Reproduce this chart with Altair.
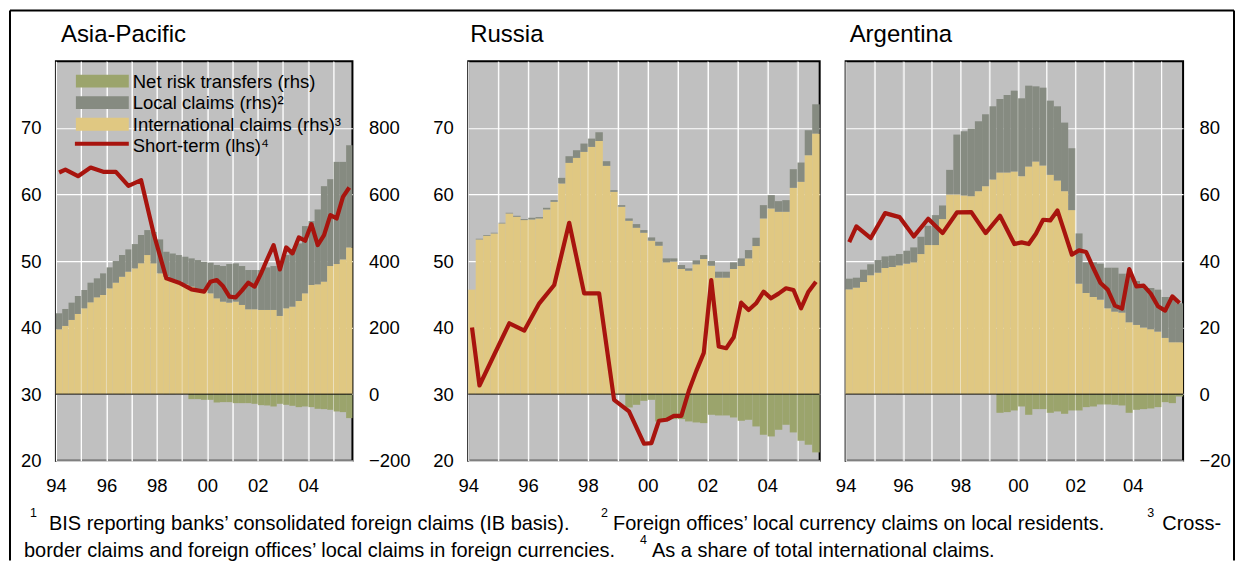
import altair as alt
import pandas as pd

FONT = "Liberation Sans"
C_BG = "#c0c0c0"
C_INTL = "#e0c882"
C_LOCAL = "#868b81"
C_NRT = "#9ba46c"
C_RED = "#a8140e"

# ---------------- data ----------------
quarter_starts = [1994 + 0.25 * i for i in range(47)]
st_dates = [1994.125, 1994.375, 1994.875, 1995.375, 1995.875, 1996.375, 1996.875,
            1997.375, 1997.875, 1998.375, 1998.875, 1999.375, 1999.875,
            2000.125, 2000.375, 2000.625, 2000.875, 2001.125, 2001.375, 2001.625, 2001.875,
            2002.125, 2002.375, 2002.625, 2002.875, 2003.125, 2003.375, 2003.625, 2003.875,
            2004.125, 2004.375, 2004.625, 2004.875, 2005.125, 2005.375, 2005.625]

series_names = ["Net risk transfers (rhs)", "Local claims (rhs)\u00b2", "International claims (rhs)\u00b3"]
series_colors = [C_NRT, C_LOCAL, C_INTL]
line_name = "Short-term (lhs)\u2074"

# Asia-Pacific (rhs: USD bn)
ap_intl = [195, 205, 223, 241, 258, 276, 291, 298, 318, 335, 353, 368, 378, 393, 418, 393,
           363, 353, 345, 338, 330, 323, 315, 311, 303, 288, 278, 275, 278, 268, 255, 255,
           253, 253, 253, 235, 258, 263, 280, 303, 328, 330, 338, 385, 391, 405, 441]
ap_local = [48, 51, 52, 54, 55, 59, 57, 65, 63, 65, 65, 67, 73, 85, 75, 94,
            102, 75, 78, 80, 83, 85, 88, 87, 92, 100, 107, 116, 115, 117, 118, 118,
            120, 128, 132, 166, 160, 172, 173, 202, 192, 225, 287, 261, 307, 293, 307]
ap_nrt = [0] * 21 + [-15, -15, -17, -17, -25, -24, -24, -27, -27, -27, -29, -33, -34, -37,
                     -29, -32, -35, -39, -37, -39, -44, -45, -47, -52, -54, -72]
ap_st = [63.3, 63.75, 62.75, 64.05, 63.4, 63.4, 61.3, 62.15, 54.1, 47.4, 46.75, 45.75, 45.4,
         46.9, 47.15, 46.2, 44.65, 44.55, 45.6, 46.75, 46.15, 48.1, 50.3, 52.4, 48.75,
         52.05, 51.15, 53.55, 53.05, 55.55, 52.4, 53.9, 56.9, 56.4, 59.65, 61.05]

# Russia (rhs scale hidden)
ru_intl = [31.4, 46.5, 47.6, 48.3, 51.3, 54.3, 53.3, 52.3, 52.5, 52.8, 55.5, 57.8, 63.3, 69.5,
           71.0, 72.8, 74.3, 76.1, 68.6, 60.8, 56.3, 52.1, 50.0, 48.5, 46.1, 44.6, 39.6, 39.8,
           37.6, 37.1, 39.0, 40.6, 38.6, 35.0, 35.0, 37.6, 38.5, 40.8, 44.5, 52.8, 55.8, 54.8,
           54.8, 62.0, 63.8, 71.8, 78.3]
ru_local = [0, 0.2, 0.2, 0.2, 0.2, 0.2, 0.3, 0.3, 0.5, 0.4, 0.5, 0.5, 1.7, 2.0, 2.3, 2.5,
            2.5, 2.6, 1.4, 0.5, 0.5, 0.7, 1.1, 0.8, 1.0, 1.2, 1.2, 1.0, 1.2, 0.7, 1.2, 1.2,
            1.4, 1.8, 1.8, 2.0, 2.3, 2.5, 2.5, 4.0, 4.0, 3.2, 3.5, 5.6, 5.8, 7.5, 8.8]
ru_nrt = [0] * 21 + [-4.0, -3.2, -2.0, -1.7, -8.2, -8.0, -7.5, -7.5, -8.2, -8.5, -8.7, -6.2,
                     -6.4, -6.4, -7.0, -8.0, -7.7, -9.7, -12.2, -12.7, -10.7, -9.2, -11.5,
                     -14.0, -15.2, -17.5]
ru_st = [40.0, 31.3, 36.0, 40.65, 39.55, 43.65, 46.4, 55.75, 45.15, 45.15, 29.15, 27.4, 22.55,
         22.65, 26.0, 26.15, 26.75, 26.75, 30.5, 33.5, 36.2, 47.15, 37.15, 36.9, 38.55,
         43.75, 42.65, 43.65, 45.4, 44.4, 45.1, 45.9, 45.65, 42.9, 45.4, 46.9]

# Argentina (rhs: USD bn)
ar_intl = [31.5, 32.0, 33.7, 35.7, 36.5, 37.9, 38.2, 38.7, 39.2, 39.6, 42.1, 44.8, 44.8, 52.6,
           60.0, 60.0, 59.7, 59.5, 61.0, 62.5, 64.5, 66.6, 66.6, 66.9, 65.5, 68.4, 69.9, 68.7,
           65.9, 64.2, 61.0, 55.3, 33.2, 30.4, 29.2, 28.4, 25.8, 24.8, 24.5, 21.6, 20.8, 20.0,
           19.5, 18.8, 16.9, 15.6, 15.6]
ar_local = [3.2, 3.0, 3.7, 3.3, 3.8, 3.5, 3.4, 3.4, 3.9, 4.5, 5.2, 5.8, 9.0, 4.1, 7.4, 18.0,
            19.3, 20.3, 21.0, 21.6, 22.0, 22.1, 23.3, 24.3, 23.4, 24.3, 22.6, 23.4, 22.3, 22.3,
            20.6, 18.6, 15.1, 9.2, 10.4, 10.8, 12.2, 13.2, 11.7, 14.6, 13.2, 12.4, 12.4, 12.6,
            12.3, 13.6, 11.7]
ar_nrt = [0] * 21 + [-5.6, -5.4, -4.9, -3.7, -6.2, -4.5, -4.5, -5.6, -5.2, -5.9, -4.9, -4.9,
                     -3.9, -3.7, -3.1, -3.1, -3.2, -3.4, -5.6, -4.7, -4.5, -4.3, -3.9, -2.4,
                     -2.7, -0.7]
ar_st = [52.85, 55.2, 53.45, 57.2, 56.6, 53.7, 56.35, 54.2, 57.3, 57.35, 54.2, 56.8, 52.55,
         52.8, 52.55, 54.1, 56.2, 56.1, 57.6, 54.3, 50.95, 51.6, 51.35, 48.95, 46.7, 45.7,
         43.3, 42.85, 48.8, 46.2, 46.3, 45.1, 43.2, 42.55, 44.7, 43.7]

grid_years = list(range(1995, 2006))
tick_years = list(range(1994, 2006))
label_years = [1994, 1996, 1998, 2000, 2002, 2004]
label_texts = ["94", "96", "98", "00", "02", "04"]
lhs_ticks = [20, 30, 40, 50, 60, 70]
ap_rhs_ticks = [-200, 0, 200, 400, 600, 800]
ar_rhs_ticks = [-20, 0, 20, 40, 60, 80]

footnote_1 = ["BIS reporting banks\u2019 consolidated foreign claims (IB basis).",
              "Foreign offices\u2019 local currency claims on local residents.",
              "Cross-"]
footnote_2 = ["border claims and foreign offices\u2019 local claims in foreign currencies.",
              "As a share of total international claims."]

one = pd.DataFrame({"k": [0]})

# ---------------- helpers ----------------
LBL = 18.5

yrs_js = "[" + ",".join(str(y) for y in label_years) + "]"
txt_js = "[" + ",".join("'" + t + "'" for t in label_texts) + "]"
x_axis = alt.Axis(values=tick_years, grid=True, gridColor="white", gridWidth=1.2,
                  ticks=False, domain=False, labelFontSize=LBL, labelPadding=16,
                  labelFlush=False, labelOverlap=False, title=None,
                  labelExpr=f"indexof({yrs_js}, datum.value) >= 0 ? {txt_js}[indexof({yrs_js}, datum.value)] : ''")


def bar_frame(intl, local, nrt):
    rows = []
    for t, a, b, c in zip(quarter_starts, intl, local, nrt):
        rows.append(dict(t0=t, t1=t + 0.25, series=series_names[2], y0=0, y1=a))
        rows.append(dict(t0=t, t1=t + 0.25, series=series_names[1], y0=a, y1=a + b))
        if c:
            rows.append(dict(t0=t, t1=t + 0.25, series=series_names[0], y0=c, y1=0))
    return pd.DataFrame(rows)


def text_layer(text, x, y, size, align="left", baseline="alphabetic"):
    return alt.Chart(one).mark_text(text=text, align=align, baseline=baseline,
                                    fontSize=size, font=FONT, color="black").encode(
        x=alt.value(x), y=alt.value(y))


def make_panel(title, title_dx, width, intl, local, nrt, st, rhs_dom, rhs_axis, lhs_axis, extras=()):
    xs = alt.Scale(domain=[1994, 2005.75], nice=False, zero=False)
    ys_r = alt.Scale(domain=rhs_dom, nice=False, zero=False)
    ys_l = alt.Scale(domain=[20, 80], nice=False, zero=False)

    bars = alt.Chart(bar_frame(intl, local, nrt)).mark_rect().encode(
        x=alt.X("t0:Q", scale=xs, axis=x_axis),
        x2="t1:Q",
        y=alt.Y("y0:Q", scale=ys_r, axis=rhs_axis),
        y2="y1:Q",
        color=alt.Color("series:N", scale=alt.Scale(domain=series_names, range=series_colors), legend=None),
    )
    overlay = alt.Chart(pd.DataFrame({"yr": grid_years})).mark_rule(
        color="white", opacity=0.35, strokeWidth=1).encode(
        x=alt.X("yr:Q", scale=xs, axis=x_axis))
    zero = alt.Chart(one).mark_rule(color="black", strokeWidth=1).encode(
        y=alt.YDatum(0, scale=ys_r, axis=None))
    line = alt.Chart(pd.DataFrame({"t": st_dates, "v": st})).mark_line(
        color=C_RED, strokeWidth=4.2, strokeJoin="round").encode(
        x=alt.X("t:Q", scale=xs, axis=x_axis),
        y=alt.Y("v:Q", scale=ys_l, axis=lhs_axis))
    ttl = text_layer(title, title_dx, -19, 24)
    layers = [bars, overlay, zero, line, ttl] + list(extras)
    return alt.layer(*layers).resolve_scale(y="independent").properties(width=width, height=400)


lhs_axis = alt.Axis(orient="left", values=lhs_ticks, grid=True, gridColor="white", gridWidth=1.2,
                    ticks=False, domain=False, labelFontSize=LBL, labelPadding=15, title=None)
ap_rhs_axis = alt.Axis(orient="right", values=ap_rhs_ticks, grid=False, ticks=False, domain=False,
                       labelFontSize=LBL, labelPadding=16, title=None,
                       labelExpr="replace(datum.label, '-', '\u2212')")
ar_rhs_axis = alt.Axis(orient="right", values=ar_rhs_ticks, grid=True, gridColor="white", gridWidth=1.2,
                       ticks=False, domain=False, labelFontSize=LBL, labelPadding=16, title=None,
                       labelExpr="replace(datum.label, '-', '\u2212')")

# legend (inside Asia-Pacific panel)
legend_layers = []
row_y = [19.7, 41.3, 63.0]
for name, col, yc in zip(series_names, series_colors, row_y):
    legend_layers.append(alt.Chart(one).mark_rect(color=col).encode(
        x=alt.value(20), x2=alt.value(73), y=alt.value(yc - 6.4), y2=alt.value(yc + 6.4)))
    legend_layers.append(text_layer(name, 77, yc + 0.5, LBL, baseline="middle"))
legend_layers.append(alt.Chart(one).mark_rule(color=C_RED, strokeWidth=4.2).encode(
    x=alt.value(19), x2=alt.value(73), y=alt.value(82.5)))
legend_layers.append(text_layer(line_name, 77, 84.5, LBL, baseline="middle"))

# footnotes
FN = 20
SUP = 12.5
foot_layers = [
    text_layer("1", -26, 456, SUP),
    text_layer(footnote_1[0], -7, 469, FN),
    text_layer("2", 546, 456, SUP),
    text_layer(footnote_1[1], 558, 469, FN),
    text_layer("3", 1093, 456, SUP),
    text_layer(footnote_1[2], 1167, 469, FN, align="right"),
    text_layer(footnote_2[0], -32, 496, FN),
    text_layer("4", 585, 483, SUP),
    text_layer(footnote_2[1], 597, 496, FN),
]

# outer frame
frame_layers = [
    alt.Chart(one).mark_rule(color="black", strokeWidth=2).encode(
        x=alt.value(-46), y=alt.value(-51), y2=alt.value(500)),
    alt.Chart(one).mark_rule(color="black", strokeWidth=2).encode(
        x=alt.value(-46), x2=alt.value(1180), y=alt.value(-51)),
    alt.Chart(one).mark_rule(color="black", strokeWidth=2).encode(
        x=alt.value(1180), y=alt.value(-51), y2=alt.value(500)),
]

asia = make_panel("Asia-Pacific", 5, 297, ap_intl, ap_local, ap_nrt, ap_st, [-200, 1000],
                  ap_rhs_axis, lhs_axis, extras=legend_layers + foot_layers + frame_layers)
russia = make_panel("Russia", 2, 352, ru_intl, ru_local, ru_nrt, ru_st, [-20, 100],
                    None, lhs_axis)
argentina = make_panel("Argentina", 4, 338, ar_intl, ar_local, ar_nrt, ar_st, [-20, 100],
                       ar_rhs_axis, None)

spacer = alt.Chart(one).mark_point(opacity=0).properties(
    width=64, height=400, view=alt.ViewBackground(fill="transparent", stroke="transparent"))

chart = alt.hconcat(asia, spacer, russia, argentina, spacing=26, bounds="flush", padding=0).configure(
    font=FONT).configure_view(fill=C_BG, stroke="black", strokeWidth=2).configure_axis(
    labelFont=FONT, labelColor="black")

chart.save("out.html", embed_options={"renderer": "svg", "actions": False})
